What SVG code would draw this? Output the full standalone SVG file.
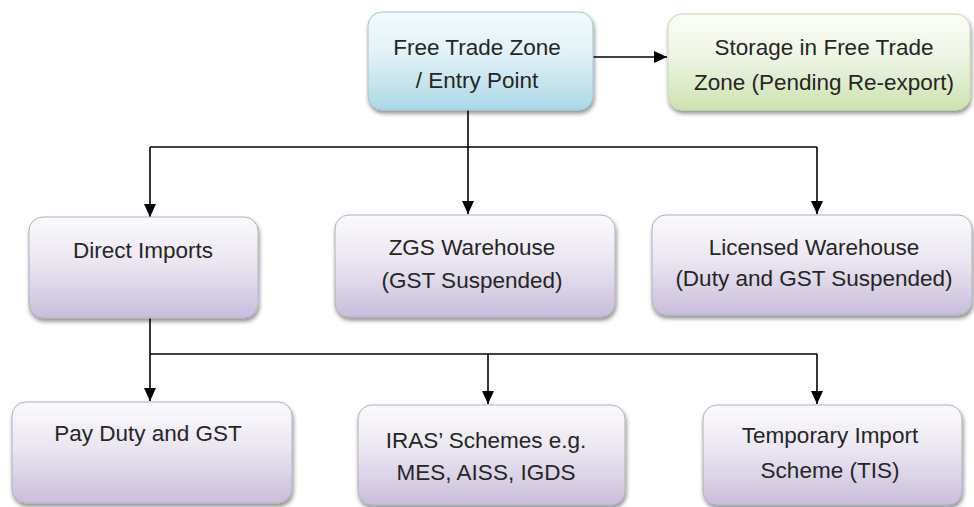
<svg xmlns="http://www.w3.org/2000/svg" width="974" height="507" viewBox="0 0 974 507">
<defs>
<linearGradient id="gBlue" x1="0" y1="0" x2="0" y2="1">
<stop offset="0" stop-color="#f3fafc"/>
<stop offset="0.45" stop-color="#dff1f6"/>
<stop offset="1" stop-color="#a9d9e6"/>
</linearGradient>
<linearGradient id="gGreen" x1="0" y1="0" x2="0" y2="1">
<stop offset="0" stop-color="#fbfdf8"/>
<stop offset="0.45" stop-color="#eef5e4"/>
<stop offset="1" stop-color="#cde2ad"/>
</linearGradient>
<linearGradient id="gPurple" x1="0" y1="0" x2="0" y2="1">
<stop offset="0" stop-color="#fbfafd"/>
<stop offset="0.45" stop-color="#ebe6f1"/>
<stop offset="1" stop-color="#c9bddb"/>
</linearGradient>
<filter id="shadow" x="-5%" y="-5%" width="112%" height="120%">
<feGaussianBlur in="SourceAlpha" stdDeviation="2"/>
<feOffset dx="1" dy="3" result="b"/>
<feComponentTransfer><feFuncA type="linear" slope="0.45"/></feComponentTransfer>
<feMerge><feMergeNode/><feMergeNode in="SourceGraphic"/></feMerge>
</filter>
<marker id="arrow" markerUnits="userSpaceOnUse" markerWidth="14" markerHeight="14" viewBox="0 0 14 14" refX="13" refY="7" orient="auto">
<path d="M0,1 L13,7 L0,13 Z" fill="#000"/>
</marker>
</defs>
<style>
.box{stroke:#b0b0bc;stroke-width:1;filter:url(#shadow);}
.blue{fill:url(#gBlue);stroke:#9fc6d2;}
.green{fill:url(#gGreen);stroke:#c8d8b4;}
.purple{fill:url(#gPurple);}
text{font-family:"Liberation Sans",Arial,sans-serif;font-size:22.5px;fill:#262626;text-anchor:middle;}
.conn{fill:none;stroke:#000;stroke-width:1.6;}
</style>
<rect width="974" height="507" fill="#fff"/>
<g id="connectors">
<path class="conn" d="M593,57 H667" marker-end="url(#arrow)"/>
<path class="conn" d="M468,110 V147"/>
<path class="conn" d="M150,147 H817"/>
<path class="conn" d="M150,147 V217" marker-end="url(#arrow)"/>
<path class="conn" d="M468,147 V214" marker-end="url(#arrow)"/>
<path class="conn" d="M817,147 V214" marker-end="url(#arrow)"/>
<path class="conn" d="M150,318 V354"/>
<path class="conn" d="M150,354 H817"/>
<path class="conn" d="M150,354 V401" marker-end="url(#arrow)"/>
<path class="conn" d="M488,354 V404" marker-end="url(#arrow)"/>
<path class="conn" d="M817,354 V404" marker-end="url(#arrow)"/>
</g>
<g id="node-ftz">
<rect class="box blue" x="368" y="12" width="225" height="98" rx="14"/>
<text x="477" y="55">Free Trade Zone</text>
<text x="477" y="88">/ Entry Point</text>
</g>
<g id="node-storage">
<rect class="box green" x="668" y="14" width="302" height="96" rx="14"/>
<text x="824" y="55">Storage in Free Trade</text>
<text x="824" y="90">Zone (Pending Re-export)</text>
</g>
<g id="node-direct">
<rect class="box purple" x="29" y="217" width="229" height="101" rx="14"/>
<text x="143" y="258">Direct Imports</text>
</g>
<g id="node-zgs">
<rect class="box purple" x="335" y="215" width="280" height="102" rx="14"/>
<text x="472" y="255">ZGS Warehouse</text>
<text x="472" y="288">(GST Suspended)</text>
</g>
<g id="node-licensed">
<rect class="box purple" x="652" y="215" width="320" height="100" rx="14"/>
<text x="814" y="255">Licensed Warehouse</text>
<text x="814" y="286">(Duty and GST Suspended)</text>
</g>
<g id="node-pay">
<rect class="box purple" x="12" y="402" width="280" height="101" rx="14"/>
<text x="148" y="441">Pay Duty and GST</text>
</g>
<g id="node-iras">
<rect class="box purple" x="358" y="405" width="267" height="100" rx="14"/>
<text x="486" y="448">IRAS’ Schemes e.g.</text>
<text x="486" y="480">MES, AISS, IGDS</text>
</g>
<g id="node-tis">
<rect class="box purple" x="703" y="405" width="259" height="100" rx="14"/>
<text x="830" y="443">Temporary Import</text>
<text x="830" y="478">Scheme (TIS)</text>
</g>
</svg>
